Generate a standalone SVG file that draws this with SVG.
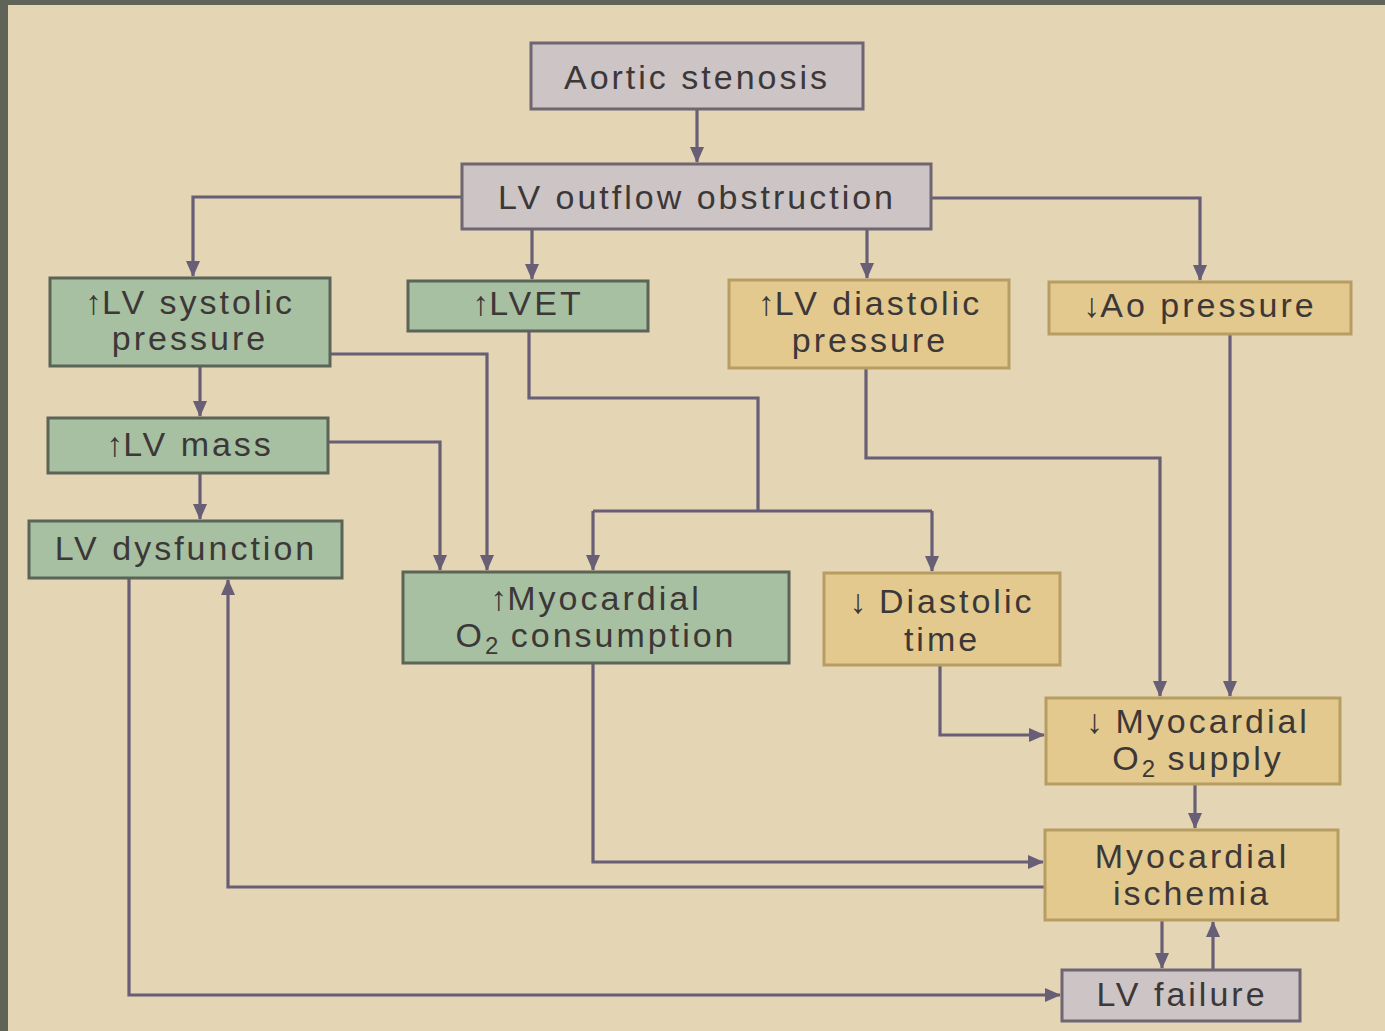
<svg xmlns="http://www.w3.org/2000/svg" width="1385" height="1031" viewBox="0 0 1385 1031">
<defs>
<style>
.bg{fill:#e4d5b5}
.gray{fill:#ccc4c5;stroke:#6e6672;stroke-width:3}
.green{fill:#a8c0a2;stroke:#5b6456;stroke-width:3}
.yellow{fill:#e3c98d;stroke:#b89d62;stroke-width:3}
text{font-family:"Liberation Sans",Arial,sans-serif;font-size:34px;fill:#3c3838;text-anchor:middle;letter-spacing:3px}
.ar{font-size:34px;letter-spacing:0;font-family:"Liberation Sans",sans-serif}
.sub{font-size:24px;letter-spacing:0}
.c{fill:none;stroke:#685e76;stroke-width:3.2}
</style>
<marker id="ah" viewBox="0 0 16 14" refX="15" refY="7" markerWidth="16" markerHeight="14" markerUnits="userSpaceOnUse" orient="auto">
<path d="M0,0 L16,7 L0,14 z" fill="#685e76"/>
</marker>
</defs>
<rect class="bg" x="0" y="0" width="1385" height="1031"/>
<rect x="0" y="0" width="1385" height="5" fill="#5f6358"/>
<rect x="0" y="0" width="8" height="1031" fill="#5f6358"/>

<g id="connectors">
<path class="c" d="M697,109 V162" marker-end="url(#ah)"/>
<path class="c" d="M462,197 H193 V276" marker-end="url(#ah)"/>
<path class="c" d="M532,229 V279" marker-end="url(#ah)"/>
<path class="c" d="M867,229 V278" marker-end="url(#ah)"/>
<path class="c" d="M931,198 H1200 V280" marker-end="url(#ah)"/>
<path class="c" d="M200,366 V416" marker-end="url(#ah)"/>
<path class="c" d="M330,354 H487 V570" marker-end="url(#ah)"/>
<path class="c" d="M328,442 H440 V570" marker-end="url(#ah)"/>
<path class="c" d="M200,473 V519" marker-end="url(#ah)"/>
<path class="c" d="M529,331 V398 H758 V511"/>
<path class="c" d="M593,511 H932"/>
<path class="c" d="M593,511 V570" marker-end="url(#ah)"/>
<path class="c" d="M932,511 V571" marker-end="url(#ah)"/>
<path class="c" d="M866,368 V458 H1160 V696" marker-end="url(#ah)"/>
<path class="c" d="M1230,334 V696" marker-end="url(#ah)"/>
<path class="c" d="M940,665 V735 H1044" marker-end="url(#ah)"/>
<path class="c" d="M1195,784 V828" marker-end="url(#ah)"/>
<path class="c" d="M593,663 V862 H1043" marker-end="url(#ah)"/>
<path class="c" d="M1045,887 H228 V580" marker-end="url(#ah)"/>
<path class="c" d="M129,578 V995 H1060" marker-end="url(#ah)"/>
<path class="c" d="M1162,920 V968" marker-end="url(#ah)"/>
<path class="c" d="M1213,970 V922" marker-end="url(#ah)"/>
</g>

<g id="aortic-stenosis">
<rect class="gray" x="531" y="43" width="332" height="66"/>
<text x="697" y="89">Aortic stenosis</text>
</g>
<g id="lv-outflow">
<rect class="gray" x="462" y="164" width="469" height="65"/>
<text x="697" y="209">LV outflow obstruction</text>
</g>
<g id="lv-systolic">
<rect class="green" x="50" y="278" width="280" height="88"/>
<text x="190" y="314"><tspan class="ar">↑</tspan>LV systolic</text>
<text x="190" y="350">pressure</text>
</g>
<g id="lvet">
<rect class="green" x="408" y="281" width="240" height="50"/>
<text x="528" y="315"><tspan class="ar">↑</tspan>LVET</text>
</g>
<g id="lv-diastolic">
<rect class="yellow" x="729" y="280" width="280" height="88"/>
<text x="870" y="315"><tspan class="ar">↑</tspan>LV diastolic</text>
<text x="870" y="352">pressure</text>
</g>
<g id="ao-pressure">
<rect class="yellow" x="1049" y="282" width="302" height="52"/>
<text x="1200" y="317"><tspan class="ar">↓</tspan>Ao pressure</text>
</g>
<g id="lv-mass">
<rect class="green" x="48" y="418" width="280" height="55"/>
<text x="190" y="456"><tspan class="ar">↑</tspan>LV mass</text>
</g>
<g id="lv-dysfunction">
<rect class="green" x="29" y="521" width="313" height="57"/>
<text x="186" y="560">LV dysfunction</text>
</g>
<g id="mvo2">
<rect class="green" x="403" y="572" width="386" height="91"/>
<text x="596" y="610"><tspan class="ar">↑</tspan>Myocardial</text>
<text x="596" y="647">O<tspan class="sub" dy="7">2</tspan><tspan dy="-7"> consumption</tspan></text>
</g>
<g id="diastolic-time">
<rect class="yellow" x="824" y="573" width="236" height="92"/>
<text x="942" y="613"><tspan class="ar">↓</tspan> Diastolic</text>
<text x="942" y="651">time</text>
</g>
<g id="o2-supply">
<rect class="yellow" x="1046" y="698" width="294" height="86"/>
<text x="1198" y="733"><tspan class="ar">↓</tspan> Myocardial</text>
<text x="1198" y="770">O<tspan class="sub" dy="7">2</tspan><tspan dy="-7"> supply</tspan></text>
</g>
<g id="ischemia">
<rect class="yellow" x="1045" y="830" width="293" height="90"/>
<text x="1192" y="868">Myocardial</text>
<text x="1192" y="905">ischemia</text>
</g>
<g id="lv-failure">
<rect class="gray" x="1062" y="970" width="238" height="51"/>
<text x="1182" y="1006">LV failure</text>
</g>
</svg>
